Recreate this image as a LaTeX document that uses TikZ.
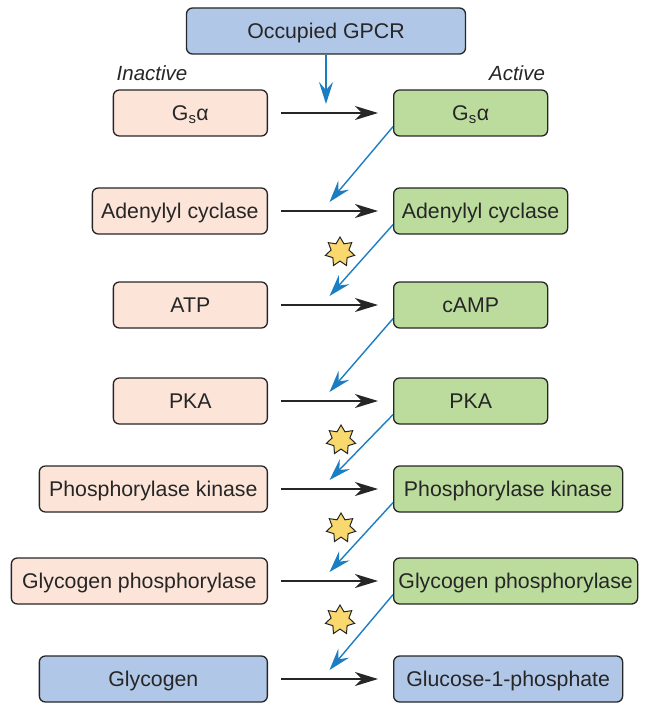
\documentclass[tikz,border=0pt]{standalone}
\usepackage{fontspec}
\setmainfont{Liberation Sans}
\usetikzlibrary{arrows.meta, positioning, shapes.geometric, calc}

\definecolor{offfill}{HTML}{FCE4D8}
\definecolor{onfill}{HTML}{BCDC9E}
\definecolor{endfill}{HTML}{B1C7E7}
\definecolor{signal}{HTML}{1B7DC2}
\definecolor{starfill}{HTML}{F9D96E}
\definecolor{ink}{HTML}{262626}

\tikzset{
  box/.style={draw=ink, line width=1.3pt, rounded corners=6pt, text=ink,
    minimum height=46, inner sep=2pt, text height=14.5pt, text depth=0pt,
    font=\fontsize{21.3}{25}\selectfont},
  offbox/.style={box, fill=offfill, anchor=east},
  onbox/.style={box, fill=onfill, anchor=west},
  endbox/.style={box, fill=endfill},
  heading/.style={text=ink, font=\fontsize{20.5}{24}\selectfont\itshape},
  convert/.style={-{Stealth[length=23pt, width=14pt, inset=7pt]}, line width=1.6pt, ink},
  cascade/.style={-{Stealth[length=22pt, width=14pt, inset=8pt]}, line width=1.4pt, signal},
  burst/.style={star, star points=7, star point ratio=1.65, minimum size=30,
    inner sep=0pt, draw=ink, line width=1pt, fill=starfill},
}

\begin{document}
\begin{tikzpicture}[x=1pt, y=-1pt]
  \useasboundingbox (0,0) rectangle (649,703);

  % --- receptor
  \node[endbox, minimum width=279] (gpcr) at (326,31) {Occupied GPCR};

  % --- column headings
  \node[heading] (hoff) at (152,73) {Inactive};
  \node[heading] (hon)  at (517,73) {Active};

  % --- inactive column
  \node[offbox, minimum width=154] (gsL) at (268,113) {G\textsubscript{s}α};
  \node[offbox, minimum width=175] (acL) at (268,211) {Adenylyl cyclase};
  \node[offbox, minimum width=154] (atpL) at (268,305) {ATP};
  \node[offbox, minimum width=154] (pkaL) at (268,401) {PKA};
  \node[offbox, minimum width=228] (pkL) at (268,489) {Phosphorylase kinase};
  \node[offbox, minimum width=256] (gpL) at (268,581) {Glycogen phosphorylase};
  \node[endbox, anchor=east, minimum width=228] (glyL) at (268,679) {Glycogen};

  % --- active column
  \node[onbox, minimum width=154] (gsR) at (393,113) {G\textsubscript{s}α};
  \node[onbox, minimum width=174] (acR) at (393,211) {Adenylyl cyclase};
  \node[onbox, minimum width=154] (atpR) at (393,305) {cAMP};
  \node[onbox, minimum width=154] (pkaR) at (393,401) {PKA};
  \node[onbox, minimum width=229] (pkR) at (393,489) {Phosphorylase kinase};
  \node[onbox, minimum width=244] (gpR) at (393,581) {Glycogen phosphorylase};
  \node[endbox, anchor=west, minimum width=229] (glyR) at (393,679) {Glucose-1-phosphate};

  % --- inactive -> active, with the point each signal lands on
  \foreach \r in {gs,ac,atp,pka,pk,gp,gly} {
    \draw[convert] ($(\r L.east)+(13,0)$) -- ($(\r R.west)+(-15,0)$);
    \coordinate (hit\r) at ($(\r L.east)!0.5!(\r R.west)+(-1,-9)$);
  }

  % --- signal cascade
  \draw[cascade] (gpcr.south) -- (gpcr.south |- hitgs);
  \foreach \a/\b in {gs/ac, ac/atp, atp/pka, pka/pk, pk/gp, gp/gly} {
    \draw[cascade] ($(\a R.south west)+(0,-10)$) -- (hit\b);
  }

  % --- amplification steps
  \node[burst] (amp1) at (340,252) {};
  \node[burst] (amp2) at (341,440) {};
  \node[burst] (amp3) at (341,528) {};
  \node[burst] (amp4) at (340,620) {};
\end{tikzpicture}
\end{document}
